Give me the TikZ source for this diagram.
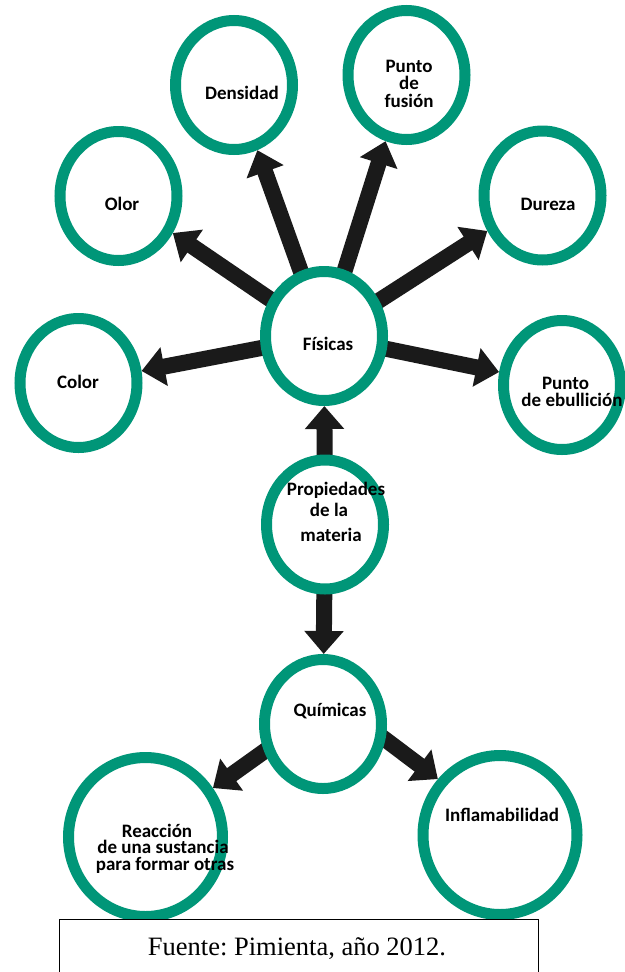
\documentclass[tikz,border=0pt]{standalone}
\usepackage{fontspec}
\setmainfont{Liberation Serif}
\setsansfont{Carlito}
\usetikzlibrary{arrows.meta,shapes.geometric}
\definecolor{ringgreen}{RGB}{0,150,120}
\definecolor{arrowk}{RGB}{26,26,26}
\newcommand{\mlines}[2]{\vtop{\baselineskip=#1\lineskiplimit=-\maxdimen\lineskip=0pt\halign{\hfil##\hfil\cr#2\crcr}}}
\pgfdeclarelayer{bg}
\pgfsetlayers{bg,main}
\frenchspacing
\begin{document}
\begin{tikzpicture}[x=1pt,y=-1pt,
  ring/.style={ellipse, draw=ringgreen, line width=11pt, fill=white,
    minimum width=117pt, minimum height=129pt, inner sep=0pt},
  bigring/.style={ring, minimum width=154pt, minimum height=159pt},
  lbl/.style={font=\sffamily\bfseries\fontsize{19}{17.5}\selectfont, anchor=base, inner sep=0pt},
  arr/.style={draw=arrowk, line width=16pt, shorten <=-14pt,
    -{Triangle[width=38pt,length=23pt]}}]
\useasboundingbox (0,0) rectangle (624,972);
% rings
\node[ring] (dens) at (234,85) {};
\node[ring] (fus) at (406.5,75) {};
\node[ring] (olor) at (118.5,196) {};
\node[ring] (dur) at (542.5,195.5) {};
\node[ring] (fis) at (324,336) {};
\node[ring] (color) at (78.5,383) {};
\node[ring] (ebu) at (562,385) {};
\node[ring] (prop) at (325,524.5) {};
\node[ring] (quim) at (323,724) {};
\node[bigring] (reac) at (145.5,837) {};
\node[bigring] (infl) at (500,835) {};
% arrows
\begin{pgfonlayer}{bg}
\draw[arr] (fis) -- (dens);
\draw[arr] (fis) -- (fus);
\draw[arr] (fis) -- (olor);
\draw[arr] (fis) -- (dur);
\draw[arr] (fis) -- (color);
\draw[arr] (fis) -- (ebu);
\draw[arr] (prop) -- (fis);
\draw[arr] (prop) -- (quim);
\draw[arr] (quim.205) -- (reac.36);
\draw[arr] (quim.-14) -- (infl.138);
\end{pgfonlayer}
% labels
\node[lbl] (tdens) at (242,99) {Densidad};
\node[lbl] (tfus) at (409,72) {\mlines{17.5pt}{Punto\cr de\cr fusión}};
\node[lbl] (tolor) at (122,210) {Olor};
\node[lbl] (tdur) at (548,210) {Dureza};
\node[lbl] (tfis) at (328,350) {Físicas};
\node[lbl] (tcolor) at (78,388) {Color};
\node[lbl] (tebu) at (572,389) {\mlines{17pt}{Punto\kern13pt\cr de ebullición}};
\node[lbl] (tprop) at (336,495) {\mlines{17.5pt}{Propiedades\cr\noalign{\vskip3.5pt}de la\kern14pt\cr\noalign{\vskip7.5pt}materia\kern10pt}};
\node[lbl] (tquim) at (330,716) {Químicas};
\begin{scope}
\clip (60,800) rectangle (270,873);
\node[lbl] (treac) at (165,837) {\mlines{16.7pt}{Reacción\kern16pt\cr de una sustancia\kern4pt\cr para formar otras}};
\end{scope}
\node[lbl] (tinfl) at (502,821) {Inflamabilidad};
% source box
\node[draw=black, line width=1.2pt, fill=white, anchor=north west,
  minimum width=479pt, minimum height=80pt, inner sep=0pt] (src) at (59,919) {};
\node[anchor=base, inner sep=0pt, font=\fontsize{26.5}{30}\selectfont] (srctxt) at (297,955) {Fuente: Pimienta, año 2012.};
\end{tikzpicture}
\end{document}
